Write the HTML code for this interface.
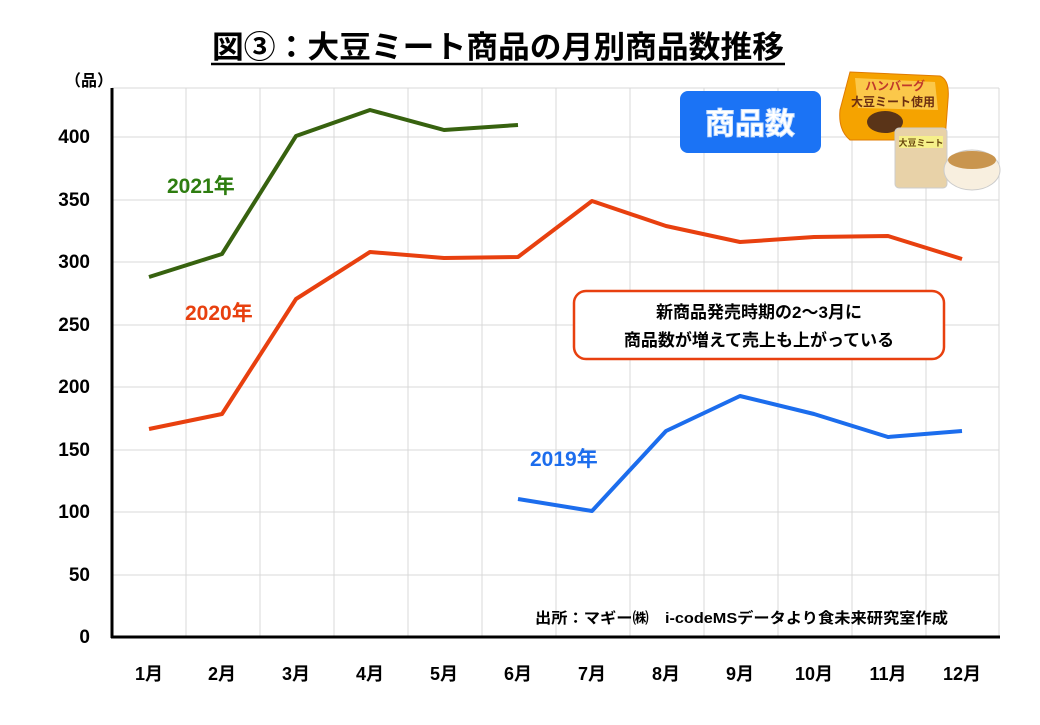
<!DOCTYPE html>
<html><head><meta charset="utf-8"><style>
body{margin:0;background:#fff;width:1040px;height:720px;overflow:hidden;font-family:"Liberation Sans","Noto Sans CJK JP",sans-serif}
</style></head><body>
<svg width="1040" height="720" viewBox="0 0 1040 720" font-family="Liberation Sans, Noto Sans CJK JP, sans-serif" font-weight="bold">
<g stroke="#d9d9d9" stroke-width="1">
<line x1="112" y1="575" x2="999" y2="575"/><line x1="112" y1="512" x2="999" y2="512"/>
<line x1="112" y1="450" x2="999" y2="450"/><line x1="112" y1="387" x2="999" y2="387"/>
<line x1="112" y1="325" x2="999" y2="325"/><line x1="112" y1="262" x2="999" y2="262"/>
<line x1="112" y1="200" x2="999" y2="200"/><line x1="112" y1="137" x2="999" y2="137"/>
<line x1="112" y1="88" x2="999" y2="88"/>
<line x1="186" y1="88" x2="186" y2="637"/><line x1="260" y1="88" x2="260" y2="637"/>
<line x1="334" y1="88" x2="334" y2="637"/><line x1="408" y1="88" x2="408" y2="637"/>
<line x1="482" y1="88" x2="482" y2="637"/><line x1="556" y1="88" x2="556" y2="637"/>
<line x1="630" y1="88" x2="630" y2="637"/><line x1="704" y1="88" x2="704" y2="637"/>
<line x1="778" y1="88" x2="778" y2="637"/><line x1="852" y1="88" x2="852" y2="637"/>
<line x1="926" y1="88" x2="926" y2="637"/><line x1="999" y1="88" x2="999" y2="637"/>
</g>
<line x1="112" y1="88" x2="112" y2="638" stroke="#000" stroke-width="3"/>
<line x1="111" y1="637" x2="1000" y2="637" stroke="#000" stroke-width="3"/>
<g font-size="19" text-anchor="end" fill="#000">
<text x="90" y="643">0</text><text x="90" y="581">50</text><text x="90" y="518">100</text>
<text x="90" y="456">150</text><text x="90" y="393">200</text><text x="90" y="331">250</text>
<text x="90" y="268">300</text><text x="90" y="206">350</text><text x="90" y="143">400</text>
</g>
<text x="65" y="86" font-size="16">（品）</text>
<g font-size="18" text-anchor="middle">
<text x="149" y="680">1月</text><text x="222" y="680">2月</text><text x="296" y="680">3月</text>
<text x="370" y="680">4月</text><text x="444" y="680">5月</text><text x="518" y="680">6月</text>
<text x="592" y="680">7月</text><text x="666" y="680">8月</text><text x="740" y="680">9月</text>
<text x="814" y="680">10月</text><text x="888" y="680">11月</text><text x="962" y="680">12月</text>
</g>
<text x="498" y="58" font-size="31" text-anchor="middle" textLength="572" lengthAdjust="spacingAndGlyphs">図③：大豆ミート商品の月別商品数推移</text>
<line x1="211" y1="64" x2="785" y2="64" stroke="#000" stroke-width="2.5"/>
<g fill="none" stroke-width="4" stroke-linejoin="round">
<polyline stroke="#37620f" points="149,277 222,254 296,136 370,110 444,130 518,125"/>
<polyline stroke="#e8400f" points="149,429 222,414 296,299 370,252 444,258 518,257 592,201 666,226 740,242 814,237 888,236 962,259"/>
<polyline stroke="#1c6ded" points="518,499 592,511 666,431 740,396 814,414 888,437 962,431"/>
</g>
<text x="167" y="193" font-size="21" fill="#2e7d10">2021年</text>
<text x="185" y="320" font-size="21" fill="#e8400f">2020年</text>
<text x="530" y="466" font-size="21" fill="#1c6ded">2019年</text>
<rect x="574" y="291" width="370" height="68" rx="12" fill="#fff" stroke="#e8400f" stroke-width="2.5"/>
<text x="759" y="318" font-size="17" text-anchor="middle">新商品発売時期の2～3月に</text>
<text x="759" y="346" font-size="17" text-anchor="middle">商品数が増えて売上も上がっている</text>
<text x="948" y="623" font-size="15" text-anchor="end" textLength="413" lengthAdjust="spacingAndGlyphs">出所：マギー㈱　i-codeMSデータより食未来研究室作成</text>
<rect x="680" y="91" width="141" height="62" rx="8" fill="#1b73f5"/>
<text x="750" y="134" font-size="30" fill="#fff" text-anchor="middle" stroke="#cfe4ff" stroke-width="1">商品数</text>
<path d="M850,72 L940,76 Q950,80 948,100 L945,140 L850,140 Q838,130 840,110 Z" fill="#f5a300" stroke="#e07b00"/>
<path d="M855,78 L935,82 L938,110 L858,108 Z" fill="#fbc84a"/>
<text x="895" y="90" font-size="12" fill="#c0392b" text-anchor="middle">ハンバーグ</text>
<text x="893" y="106" font-size="12" fill="#6b2e10" text-anchor="middle">大豆ミート使用</text>
<ellipse cx="885" cy="122" rx="18" ry="11" fill="#5a3418"/>
<rect x="895" y="128" width="52" height="60" rx="4" fill="#e8d2a8" stroke="#ccc"/>
<rect x="899" y="136" width="44" height="12" fill="#f6f08a"/>
<text x="921" y="146" font-size="9" fill="#6b4a10" text-anchor="middle">大豆ミート</text>
<ellipse cx="972" cy="170" rx="28" ry="20" fill="#f8efdf" stroke="#ccc"/>
<ellipse cx="972" cy="160" rx="24" ry="9" fill="#c9954e"/>
</svg>
</body></html>
